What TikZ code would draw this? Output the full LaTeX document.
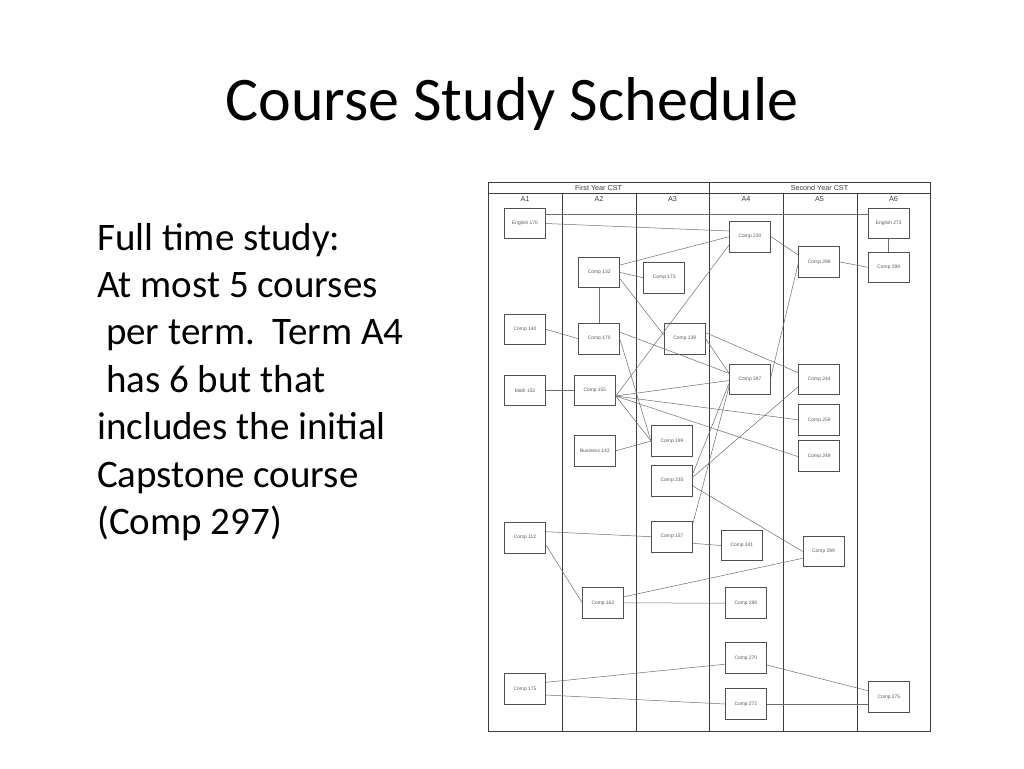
\documentclass[tikz,border=0pt]{standalone}
\usepackage{fontspec}
\setmainfont{Carlito}
\newfontfamily\arialf{Liberation Sans}
\usetikzlibrary{calc}
\definecolor{framec}{HTML}{3C3C3C}
\definecolor{boxc}{HTML}{505050}
\definecolor{connc}{HTML}{6E6E6E}
\definecolor{boxtxt}{HTML}{5A5A5A}
\tikzset{
  course/.style={draw=boxc, line width=0.9pt, fill=white, minimum width=41pt, minimum height=30.7pt, inner sep=0pt,
    text=boxtxt, font=\arialf\fontsize{4.9}{5.5}\selectfont},
  conn/.style={draw=connc, line width=0.5pt},
  frame/.style={draw=framec, line width=1pt},
  hdr/.style={font=\arialf\fontsize{7.2}{8}\selectfont, text=framec, inner sep=0pt},
  body/.style={font=\fontsize{39}{47}\selectfont, anchor=base west, inner sep=0pt},
}
\begin{document}
\begin{tikzpicture}[x=1pt,y=-1pt]
\useasboundingbox (0,0) rectangle (1024,768);
\fill[white] (0,0) rectangle (1024,768);
% title
\node[font=\fontsize{62}{70}\selectfont, anchor=base, inner sep=0pt] (title) at (512,120) {Course Study Schedule};
% body text
\node[body] (t1) at (97,250) {Full time study:};
\node[body] (t2) at (97,297.4) {At most 5 courses};
\node[body] (t3) at (97,344.8) {\ per term.\ \ Term A4};
\node[body] (t4) at (97,392.2) {\ has 6 but that};
\node[body] (t5) at (97,439.6) {includes the initial};
\node[body] (t6) at (97,487) {Capstone course};
\node[body] (t7) at (97,534.4) {(Comp 297)};
% frame
\draw[frame] (488,182.5) rectangle (930.5,731);
\draw[frame] (488,193.5) -- (930.5,193.5);
\draw[frame] (709,182.5) -- (709,731);
\foreach \xx in {562,636,783,857} \draw[frame] (\xx,193.5) -- (\xx,731);
\node[hdr] (hy1) at (598.5,188.2) {First Year CST};
\node[hdr] (hy2) at (819.5,188.2) {Second Year CST};
\node[hdr] (ha1) at (525,198.6) {A1};
\node[hdr] (ha2) at (599,198.6) {A2};
\node[hdr] (ha3) at (672.5,198.6) {A3};
\node[hdr] (ha4) at (746,198.6) {A4};
\node[hdr] (ha5) at (819.5,198.6) {A5};
\node[hdr] (ha6) at (893.5,198.6) {A6};
% courses
\node[course] (e170) at (525,223.5) {English 170};
\node[course] (c132) at (599.2,272.5) {Comp 132};
\node[course] (c173) at (664.2,277.7) {Comp 173};
\node[course] (c140) at (525,329.3) {Comp 140};
\node[course] (c170) at (599.2,338.7) {Comp 170};
\node[course] (c139) at (684.7,338.7) {Comp 139};
\node[course] (m153) at (525,390.3) {Math 153};
\node[course] (c155) at (594.8,390.3) {Comp 155};
\node[course] (b143) at (594.8,450.8) {Business 143};
\node[course] (c199) at (672,441) {Comp 199};
\node[course] (c235) at (672,480.7) {Comp 235};
\node[course] (c112) at (525,537.7) {Comp 112};
\node[course] (c157) at (672,536.7) {Comp 157};
\node[course] (c163) at (602.8,602.8) {Comp 163};
\node[course] (c175) at (525,688.8) {Comp 175};
\node[course] (c230) at (750,236.7) {Comp 230};
\node[course] (c297) at (750,379.5) {Comp 297};
\node[course] (c241) at (741.8,545.5) {Comp 241};
\node[course] (c288) at (745.8,603.2) {Comp 288};
\node[course] (c270) at (745.8,658.2) {Comp 270};
\node[course] (c272) at (745.8,704) {Comp 272};
\node[course] (c298) at (819.2,262) {Comp 298};
\node[course] (c244) at (819.2,379.5) {Comp 244};
\node[course] (c259) at (819.2,419.8) {Comp 259};
\node[course] (c249) at (819.2,456) {Comp 249};
\node[course] (c289) at (823.5,551.5) {Comp 289};
\node[course] (e273) at (888.7,223.5) {English 273};
\node[course] (c299) at (888.7,267.3) {Comp 299};
\node[course] (c275) at (888.8,697) {Comp 275};
% connectors
\draw[conn] ($(e170.east)+(0,-9.4)$) -- ($(e273.west)+(0,-9.4)$);
\draw[conn] (e170.east) -- ($(c230.west)+(0,-5.7)$);
\draw[conn] ($(c132.east)+(0,-7.5)$) -- (c230.west);
\draw[conn] ($(c155.east)+(0,5.7)$) -- ($(c230.west)+(0,8.3)$);
\draw[conn] (c132.east) -- (c173.west);
\draw[conn] (c132.south) -- (c170.north);
\draw[conn] ($(c132.east)+(0,6.5)$) -- ($(c139.west)+(0,-3.7)$);
\draw[conn] (c140.east) -- (c170.west);
\draw[conn] ($(c170.east)+(0,-6.4)$) -- ($(c297.west)+(0,-6.2)$);
\draw[conn] ($(c170.east)+(0,1.3)$) -- (c199.west);
\draw[conn] ($(c155.east)+(0,5.7)$) -- (c199.west);
\draw[conn] (b143.east) -- (c199.west);
\draw[conn] ($(c139.east)+(0,-6)$) -- ($(c244.west)+(0,-6.8)$);
\draw[conn] (c139.east) -- ($(c297.west)+(0,-6.2)$);
\draw[conn] ($(c155.east)+(0,5.7)$) -- ($(c297.west)+(0,1)$);
\draw[conn] ($(c155.east)+(0,5.7)$) -- (c259.west);
\draw[conn] ($(c155.east)+(0,5.7)$) -- ($(c249.west)+(0,0.7)$);
\draw[conn] ($(c235.east)+(0,-7.4)$) -- ($(c297.west)+(0,4)$);
\draw[conn] ($(c157.east)+(0,-13.4)$) -- ($(c297.west)+(0,7)$);
\draw[conn] ($(c235.east)+(0,-3.7)$) -- ($(c244.west)+(0,7.2)$);
\draw[conn] ($(c235.east)+(0,5.3)$) -- (c289.west);
\draw[conn] ($(c157.east)+(0,6.6)$) -- (c241.west);
\draw[conn] ($(c112.east)+(0,-6)$) -- (c157.west);
\draw[conn] ($(c112.east)+(0,7.3)$) -- ($(c163.west)+(0,-0.5)$);
\draw[conn] ($(c163.east)+(0,-6)$) -- ($(c289.west)+(0,6.8)$);
\draw[conn] (c163.east) -- (c288.west);
\draw[conn] ($(c175.east)+(0,-6.5)$) -- ($(c270.west)+(0,6)$);
\draw[conn] ($(c175.east)+(0,6.2)$) -- (c272.west);
\draw[conn] ($(c270.east)+(0,6.8)$) -- ($(c275.west)+(0,-6.3)$);
\draw[conn] (c272.east) -- ($(c275.west)+(0,7)$);
\draw[conn] (c230.east) -- ($(c298.west)+(0,-7)$);
\draw[conn] ($(c297.east)+(0,-2.8)$) -- ($(c298.west)+(0,1.3)$);
\draw[conn] (c298.east) -- (c299.west);
\draw[conn] (e273.south) -- (c299.north);
\draw[conn] (m153.east) -- (c155.west);
\end{tikzpicture}
\end{document}
